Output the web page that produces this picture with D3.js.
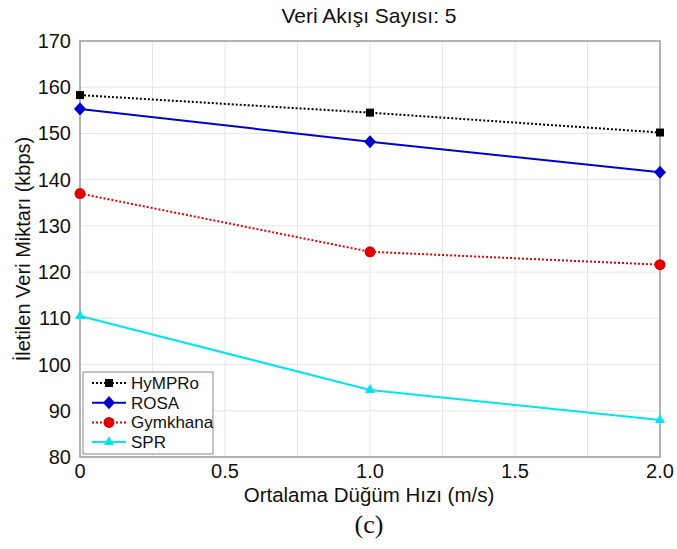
<!DOCTYPE html>
<html>
<head>
<meta charset="utf-8">
<script src="https://cdn.jsdelivr.net/npm/d3@7.9.0/dist/d3.min.js"></script>
<style>
  body { margin: 0; background: #fff; }
  text { font-family: "Liberation Sans", Arial, sans-serif; fill: #111; }
</style>
</head>
<body>
<svg id="chart" width="677" height="549"></svg>
<script>
// data
const speeds = [0, 1, 2];
const seriesNames = ["HyMPRo", "ROSA", "Gymkhana", "SPR"];
const hymproVals = [158.3, 154.5, 150.2];
const rosaVals = [155.3, 148.2, 141.6];
const gymkhanaVals = [137.0, 124.4, 121.6];
const sprVals = [110.5, 94.5, 88.0];
const xTicks = [0, 0.5, 1.0, 1.5, 2.0];
const yTicks = [80, 90, 100, 110, 120, 130, 140, 150, 160, 170];

const styles = {
    HyMPRo: { color: "#000000", dash: "2,2", shape: d3.symbolSquare, size: 64, rot: "" },
    ROSA: { color: "#0000cc", dash: null, shape: d3.symbolSquare, size: 72, rot: " scale(1,1.1) rotate(45)" },
    Gymkhana: { color: "#e00000", dash: "2,2", shape: d3.symbolCircle, size: 95, rot: "" },
    SPR: { color: "#00e5ee", dash: null, shape: d3.symbolTriangle, size: 45, rot: "" }
};
const allVals = [hymproVals, rosaVals, gymkhanaVals, sprVals];

const svg = d3.select("#chart");
const mLeft = 80, mRight = 660, mTop = 41, mBottom = 457;

const x = d3.scaleLinear().domain([0, 2]).range([mLeft, mRight]);
const y = d3.scaleLinear().domain([80, 170]).range([mBottom, mTop]);

// grid
svg.append("g").selectAll("line")
    .data(d3.range(0.25, 2, 0.25))
    .join("line")
    .attr("x1", d => x(d)).attr("x2", d => x(d))
    .attr("y1", mTop).attr("y2", mBottom)
    .attr("stroke", "#e6e6e6").attr("stroke-width", 1);
svg.append("g").selectAll("line")
    .data(yTicks.slice(1, -1))
    .join("line")
    .attr("x1", mLeft).attr("x2", mRight)
    .attr("y1", d => y(d)).attr("y2", d => y(d))
    .attr("stroke", "#e6e6e6").attr("stroke-width", 1);

// frame
svg.append("rect")
    .attr("x", mLeft).attr("y", mTop)
    .attr("width", mRight - mLeft).attr("height", mBottom - mTop)
    .attr("fill", "none").attr("stroke", "#9a9a9a").attr("stroke-width", 1.5);

// tick labels
svg.append("g").selectAll("text")
    .data(xTicks)
    .join("text")
    .attr("x", d => x(d)).attr("y", mBottom + 21)
    .attr("text-anchor", "middle")
    .attr("font-size", 20)
    .text(d => d === 0 ? "0" : d3.format(".1f")(d));
svg.append("g").selectAll("text")
    .data(yTicks)
    .join("text")
    .attr("x", mLeft - 9).attr("y", d => y(d) + 7)
    .attr("text-anchor", "end")
    .attr("font-size", 20)
    .text(d => d);

// titles
svg.append("text").attr("x", 369).attr("y", 23)
    .attr("text-anchor", "middle").attr("font-size", 21)
    .text("Veri Akışı Sayısı: 5");
svg.append("text").attr("x", 369).attr("y", 502)
    .attr("text-anchor", "middle").attr("font-size", 20.5)
    .text("Ortalama Düğüm Hızı (m/s)");
svg.append("text")
    .attr("transform", "translate(30," + ((mTop + mBottom) / 2) + ") rotate(-90)")
    .attr("text-anchor", "middle").attr("font-size", 20)
    .text("İletilen Veri Miktarı (kbps)");
svg.append("text").attr("x", 369).attr("y", 533)
    .attr("text-anchor", "middle").attr("font-size", 26)
    .style("font-family", "'Liberation Serif', 'Times New Roman', serif")
    .text("(c)");

// lines and markers
const line = d3.line().x((d, i) => x(speeds[i])).y(d => y(d));
seriesNames.forEach((name, k) => {
    const st = styles[name];
    const vals = allVals[k];
    svg.append("path")
        .attr("d", line(vals))
        .attr("fill", "none")
        .attr("stroke", st.color)
        .attr("stroke-width", 2)
        .attr("stroke-dasharray", st.dash);
    svg.append("g").selectAll("path")
        .data(vals)
        .join("path")
        .attr("transform", (d, i) => "translate(" + x(speeds[i]) + "," + y(d) + ")" + st.rot)
        .attr("d", d3.symbol().type(st.shape).size(st.size))
        .attr("fill", st.color);
});

// legend
const lg = svg.append("g").attr("transform", "translate(83,372)");
lg.append("rect").attr("width", 130).attr("height", 82)
    .attr("fill", "#fff").attr("stroke", "#888").attr("stroke-width", 1);
seriesNames.forEach((name, k) => {
    const st = styles[name];
    const cy = 11 + k * 19.7;
    lg.append("line").attr("x1", 9).attr("x2", 43).attr("y1", cy).attr("y2", cy)
        .attr("stroke", st.color).attr("stroke-width", 2)
        .attr("stroke-dasharray", st.dash);
    lg.append("path")
        .attr("transform", "translate(26," + cy + ")" + st.rot)
        .attr("d", d3.symbol().type(st.shape).size(st.size))
        .attr("fill", st.color);
    lg.append("text").attr("x", 48).attr("y", cy + 6)
        .attr("font-size", 17).text(name);
});
</script>
</body>
</html>
